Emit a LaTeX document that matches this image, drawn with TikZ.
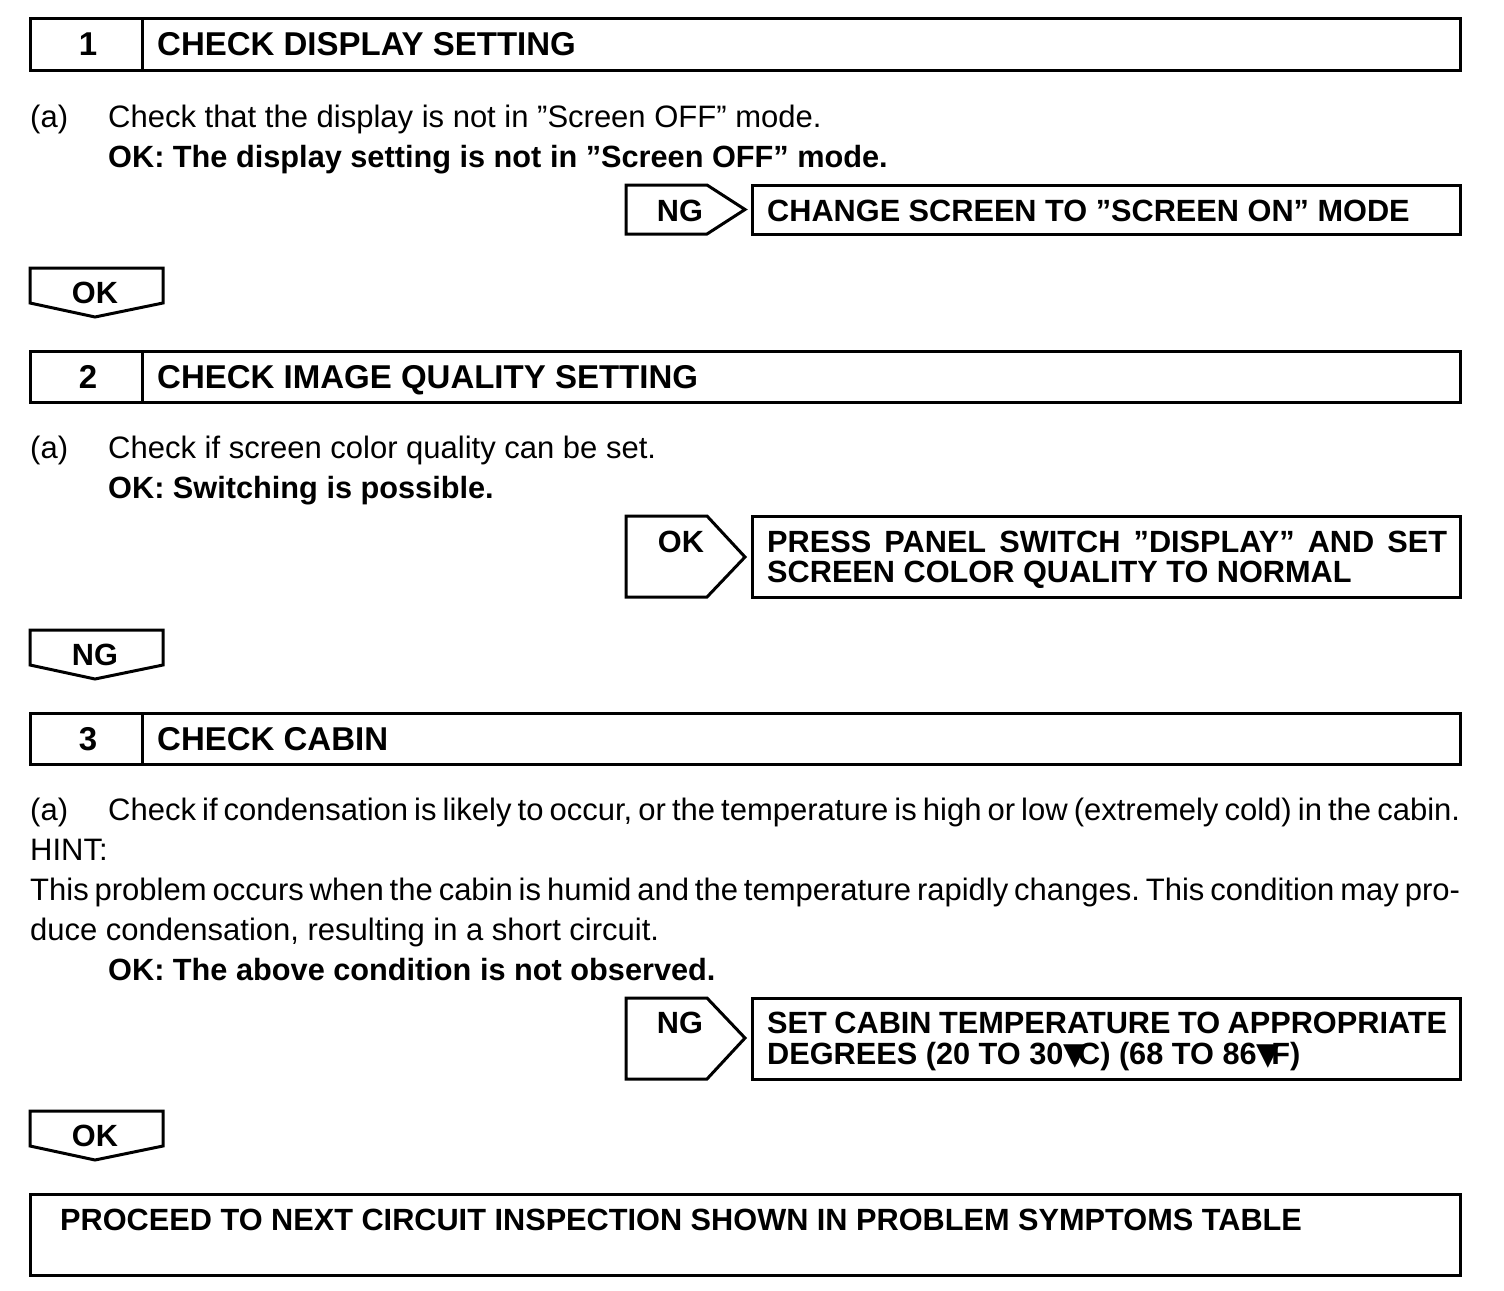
\documentclass[tikz,border=0pt]{standalone}
\usepackage{fontspec}
\setmainfont{Liberation Sans}
\newfontfamily\symfont{DejaVu Sans}
\newcommand{\degtri}{{\symfont\kern0pt▼\kern-9pt}}
\newcommand{\justline}[2]{\hbox to #1{\frenchspacing\spaceskip=0.278em plus 1em minus 0.15em\relax #2}}
\begin{document}
\begin{tikzpicture}[x=1pt,y=-1pt,
  every node/.style={inner sep=0pt, font=\fontsize{31}{40}\selectfont},
  frame/.style={draw, line width=3pt, line join=miter},
  txt/.style={anchor=base west},
  btxt/.style={anchor=base west, font=\fontsize{30.7}{40}\selectfont\bfseries},
  htxt/.style={anchor=base west, font=\fontsize{33}{40}\selectfont\bfseries},
  blab/.style={anchor=base, font=\fontsize{30.7}{40}\selectfont\bfseries},
  hlab/.style={anchor=base, font=\fontsize{33}{40}\selectfont\bfseries}]
\useasboundingbox (0,0) rectangle (1504,1290);

% ---------- Step 1
\draw[frame] (30,19) rectangle (1460,71);
\draw[frame] (142,19) -- (142,71);
\node[hlab] (n1) at (88,56) {1};
\node[htxt] (h1) at (157,56) {CHECK DISPLAY SETTING};
\node[txt] (a1) at (30,127) {(a)};
\node[txt] (t1) at (108,127) {Check that the display is not in ”Screen OFF” mode.};
\node[btxt] (ok1) at (108,167) {OK: The display setting is not in ”Screen OFF” mode.};
\draw[frame] (626,185) -- (707,185) -- (745,209.5) -- (707,234) -- (626,234) -- cycle;
\node[blab] (ng1) at (680,221) {NG};
\draw[frame] (752,185) rectangle (1460,234);
\node[btxt] (r1) at (767,221) {CHANGE SCREEN TO ”SCREEN ON” MODE};
\draw[frame] (30,268) -- (163,268) -- (163,303) -- (95,317) -- (30,303) -- cycle;
\node[blab] (d1) at (95,303) {OK};

% ---------- Step 2
\draw[frame] (30,351) rectangle (1460,402);
\draw[frame] (142,351) -- (142,402);
\node[hlab] (n2) at (88,388) {2};
\node[htxt] (h2) at (157,388) {CHECK IMAGE QUALITY SETTING};
\node[txt] (a2) at (30,458) {(a)};
\node[txt] (t2) at (108,458) {Check if screen color quality can be set.};
\node[btxt] (ok2) at (108,498) {OK: Switching is possible.};
\draw[frame] (626,516) -- (707,516) -- (745,557) -- (707,597) -- (626,597) -- cycle;
\node[blab] (ng2) at (681,552) {OK};
\draw[frame] (752,516) rectangle (1460,597);
\node[btxt] (r2a) at (767,552) {\justline{680pt}{PRESS PANEL SWITCH ”DISPLAY” AND SET}};
\node[btxt] (r2b) at (767,582) {SCREEN COLOR QUALITY TO NORMAL};
\draw[frame] (30,630) -- (163,630) -- (163,665) -- (95,679) -- (30,665) -- cycle;
\node[blab] (d2) at (95,665) {NG};

% ---------- Step 3
\draw[frame] (30,713) rectangle (1460,764);
\draw[frame] (142,713) -- (142,764);
\node[hlab] (n3) at (88,750) {3};
\node[htxt] (h3) at (157,750) {CHECK CABIN};
\node[txt] (a3) at (30,820) {(a)};
\node[txt] (t3) at (108,820) {\justline{1352pt}{Check if condensation is likely to occur, or the temperature is high or low (extremely cold) in the cabin.}};
\node[txt] (hint) at (30,860) {HINT:};
\node[txt] (p1) at (30,900) {\justline{1430pt}{This problem occurs when the cabin is humid and the temperature rapidly changes. This condition may pro-}};
\node[txt] (p2) at (30,940) {duce condensation, resulting in a short circuit.};
\node[btxt] (ok3) at (108,980) {OK: The above condition is not observed.};
\draw[frame] (626,998) -- (707,998) -- (745,1038) -- (707,1079) -- (626,1079) -- cycle;
\node[blab] (ng3) at (680,1033) {NG};
\draw[frame] (752,998) rectangle (1460,1079);
\node[btxt] (r3a) at (767,1033) {\justline{680pt}{SET CABIN TEMPERATURE TO APPROPRIATE}};
\node[btxt] (r3b) at (767,1064) {DEGREES (20 TO 30\degtri C) (68 TO 86\degtri F)};
\draw[frame] (30,1111) -- (163,1111) -- (163,1146) -- (95,1160) -- (30,1146) -- cycle;
\node[blab] (d3) at (95,1146) {OK};

% ---------- Final
\draw[frame] (30,1194) rectangle (1460,1275);
\node[btxt] (fin) at (60,1230) {PROCEED TO NEXT CIRCUIT INSPECTION SHOWN IN PROBLEM SYMPTOMS TABLE};
\end{tikzpicture}
\end{document}
